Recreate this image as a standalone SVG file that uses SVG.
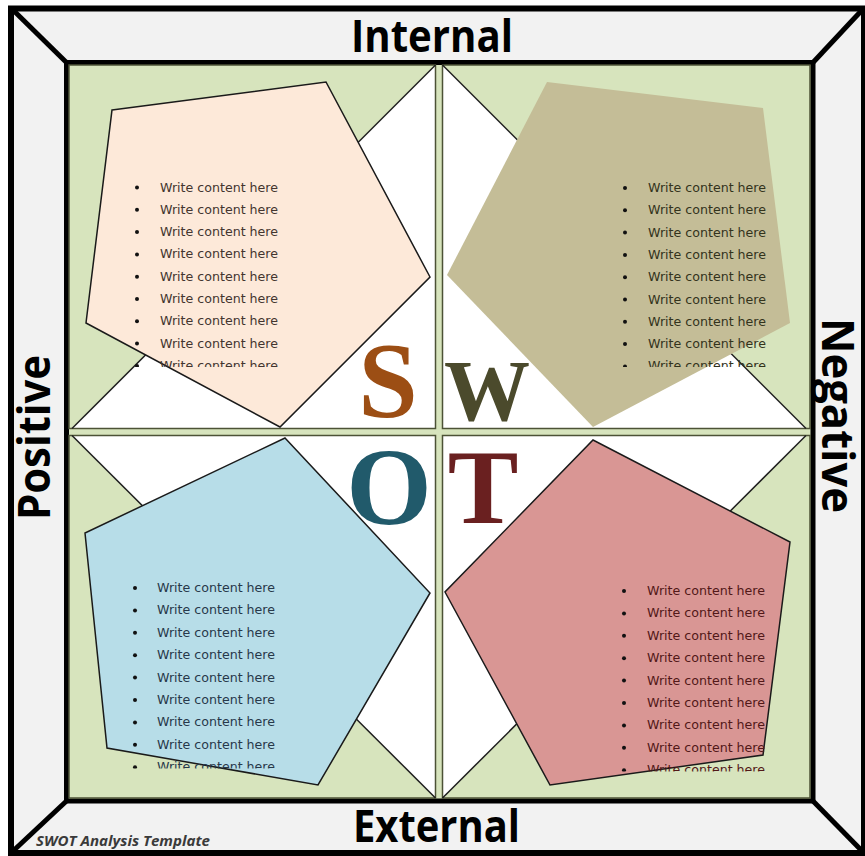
<svg xmlns="http://www.w3.org/2000/svg" width="865" height="856" viewBox="0 0 865 856">
<style>
.frame{fill:#f2f2f2;stroke:#000;stroke-width:6}
.inner{fill:#d7e4bd;stroke:#000;stroke-width:5}
.corner{stroke:#000;stroke-width:5;fill:none}
.quad{fill:none;stroke:#4c5236;stroke-width:1.5}
.tri{fill:#fff;stroke:none}
.diag{stroke:#1e1e1e;stroke-width:1.5;fill:none}
.label{font-family:"Open Sans","DejaVu Sans",sans-serif;font-weight:700;font-size:44px;fill:#000}
.item{font-family:"DejaVu Sans","Liberation Sans",sans-serif;font-size:11.5px}
.big{font-family:"Liberation Serif","DejaVu Serif",serif;font-weight:700;text-anchor:middle}
.pent{stroke:#1a1a1a;stroke-width:1.5}
</style>
<defs>
<clipPath id="cS"><rect x="120" y="170" width="180" height="197"/></clipPath>
<clipPath id="cW"><rect x="610" y="170" width="180" height="197"/></clipPath>
<clipPath id="cO"><rect x="120" y="570" width="180" height="198.5"/></clipPath>
<clipPath id="cT"><rect x="610" y="573" width="180" height="198.5"/></clipPath>
</defs>

<g id="frame">
<rect class="frame" x="11" y="8.5" width="853" height="844.5"/>
<rect class="inner" x="66.5" y="62.5" width="746.5" height="738.5"/>
<line class="corner" x1="12" y1="9" x2="66.5" y2="62.5"/>
<line class="corner" x1="863" y1="9" x2="813" y2="62.5"/>
<line class="corner" x1="12" y1="852" x2="66.5" y2="801"/>
<line class="corner" x1="863" y1="852" x2="813" y2="801"/>
</g>

<g id="quadrants">
<polygon class="tri" points="435.5,65 435.5,428.5 72,428.5"/>
<polygon class="tri" points="442.5,65 442.5,428.5 806,428.5"/>
<polygon class="tri" points="72,435.5 435.5,435.5 435.5,798"/>
<polygon class="tri" points="806,435.5 442.5,435.5 442.5,798"/>
<rect class="quad" x="69" y="65" width="366.5" height="363.5"/>
<rect class="quad" x="442.5" y="65" width="367.5" height="363.5"/>
<rect class="quad" x="69" y="435.5" width="366.5" height="362.5"/>
<rect class="quad" x="442.5" y="435.5" width="367.5" height="362.5"/>
</g>

<g id="connectors">
<line class="diag" x1="435.5" y1="65" x2="72" y2="428.5"/>
<line class="diag" x1="442.5" y1="65" x2="806" y2="428.5"/>
<line class="diag" x1="72" y1="435.5" x2="435.5" y2="798"/>
<line class="diag" x1="806" y1="435.5" x2="442.5" y2="798"/>
</g>

<g id="strengths">
<polygon class="pent" fill="#fde9d9" points="112,110 326,82 430,277 280,427 86,323"/>
<g clip-path="url(#cS)" fill="#43352f">
<g class="item">
<text x="160" y="191.5" textLength="118" lengthAdjust="spacingAndGlyphs">Write content here</text>
<text x="160" y="213.8" textLength="118" lengthAdjust="spacingAndGlyphs">Write content here</text>
<text x="160" y="236.1" textLength="118" lengthAdjust="spacingAndGlyphs">Write content here</text>
<text x="160" y="258.4" textLength="118" lengthAdjust="spacingAndGlyphs">Write content here</text>
<text x="160" y="280.7" textLength="118" lengthAdjust="spacingAndGlyphs">Write content here</text>
<text x="160" y="303" textLength="118" lengthAdjust="spacingAndGlyphs">Write content here</text>
<text x="160" y="325.3" textLength="118" lengthAdjust="spacingAndGlyphs">Write content here</text>
<text x="160" y="347.6" textLength="118" lengthAdjust="spacingAndGlyphs">Write content here</text>
<text x="160" y="369.9" textLength="118" lengthAdjust="spacingAndGlyphs">Write content here</text>
</g>
<g fill="#111">
<circle cx="137" cy="187.5" r="2"/><circle cx="137" cy="209.8" r="2"/><circle cx="137" cy="232.1" r="2"/>
<circle cx="137" cy="254.4" r="2"/><circle cx="137" cy="276.7" r="2"/><circle cx="137" cy="299" r="2"/>
<circle cx="137" cy="321.3" r="2"/><circle cx="137" cy="343.6" r="2"/><circle cx="137" cy="365.9" r="2"/>
</g>
</g>
<text class="big" x="388" y="417" font-size="107" fill="#9c4e14">S</text>
</g>

<g id="weaknesses">
<polygon fill="#c4bd97" points="547,82 763,108 790,323 593,427 447,275"/>
<g clip-path="url(#cW)" fill="#33331c">
<g class="item">
<text x="648" y="192" textLength="118" lengthAdjust="spacingAndGlyphs">Write content here</text>
<text x="648" y="214.3" textLength="118" lengthAdjust="spacingAndGlyphs">Write content here</text>
<text x="648" y="236.6" textLength="118" lengthAdjust="spacingAndGlyphs">Write content here</text>
<text x="648" y="258.9" textLength="118" lengthAdjust="spacingAndGlyphs">Write content here</text>
<text x="648" y="281.2" textLength="118" lengthAdjust="spacingAndGlyphs">Write content here</text>
<text x="648" y="303.5" textLength="118" lengthAdjust="spacingAndGlyphs">Write content here</text>
<text x="648" y="325.8" textLength="118" lengthAdjust="spacingAndGlyphs">Write content here</text>
<text x="648" y="348.1" textLength="118" lengthAdjust="spacingAndGlyphs">Write content here</text>
<text x="648" y="370.4" textLength="118" lengthAdjust="spacingAndGlyphs">Write content here</text>
</g>
<g fill="#111">
<circle cx="625" cy="188" r="2"/><circle cx="625" cy="210.3" r="2"/><circle cx="625" cy="232.6" r="2"/>
<circle cx="625" cy="254.9" r="2"/><circle cx="625" cy="277.2" r="2"/><circle cx="625" cy="299.5" r="2"/>
<circle cx="625" cy="321.8" r="2"/><circle cx="625" cy="344.1" r="2"/><circle cx="625" cy="366.4" r="2"/>
</g>
</g>
<text class="big" x="487" y="420" font-size="86" fill="#4b4a2c">W</text>
</g>

<g id="opportunities">
<polygon class="pent" fill="#b7dde8" points="285,438 430,593 318,785 107,748 85,533"/>
<g clip-path="url(#cO)" fill="#27384a">
<g class="item">
<text x="157" y="592" textLength="118" lengthAdjust="spacingAndGlyphs">Write content here</text>
<text x="157" y="614.4" textLength="118" lengthAdjust="spacingAndGlyphs">Write content here</text>
<text x="157" y="636.8" textLength="118" lengthAdjust="spacingAndGlyphs">Write content here</text>
<text x="157" y="659.2" textLength="118" lengthAdjust="spacingAndGlyphs">Write content here</text>
<text x="157" y="681.6" textLength="118" lengthAdjust="spacingAndGlyphs">Write content here</text>
<text x="157" y="704" textLength="118" lengthAdjust="spacingAndGlyphs">Write content here</text>
<text x="157" y="726.4" textLength="118" lengthAdjust="spacingAndGlyphs">Write content here</text>
<text x="157" y="748.8" textLength="118" lengthAdjust="spacingAndGlyphs">Write content here</text>
<text x="157" y="771.2" textLength="118" lengthAdjust="spacingAndGlyphs">Write content here</text>
</g>
<g fill="#111">
<circle cx="135" cy="588" r="2"/><circle cx="135" cy="610.4" r="2"/><circle cx="135" cy="632.8" r="2"/>
<circle cx="135" cy="655.2" r="2"/><circle cx="135" cy="677.6" r="2"/><circle cx="135" cy="700" r="2"/>
<circle cx="135" cy="722.4" r="2"/><circle cx="135" cy="744.8" r="2"/><circle cx="135" cy="767.2" r="2"/>
</g>
</g>
<text class="big" x="389" y="524" font-size="110" fill="#215a6b">O</text>
</g>

<g id="threats">
<polygon class="pent" fill="#d99694" points="593,440 790,542 763,755 550,785 445,592"/>
<g clip-path="url(#cT)" fill="#521818">
<g class="item">
<text x="647" y="595" textLength="118" lengthAdjust="spacingAndGlyphs">Write content here</text>
<text x="647" y="617.4" textLength="118" lengthAdjust="spacingAndGlyphs">Write content here</text>
<text x="647" y="639.8" textLength="118" lengthAdjust="spacingAndGlyphs">Write content here</text>
<text x="647" y="662.2" textLength="118" lengthAdjust="spacingAndGlyphs">Write content here</text>
<text x="647" y="684.6" textLength="118" lengthAdjust="spacingAndGlyphs">Write content here</text>
<text x="647" y="707" textLength="118" lengthAdjust="spacingAndGlyphs">Write content here</text>
<text x="647" y="729.4" textLength="118" lengthAdjust="spacingAndGlyphs">Write content here</text>
<text x="647" y="751.8" textLength="118" lengthAdjust="spacingAndGlyphs">Write content here</text>
<text x="647" y="774.2" textLength="118" lengthAdjust="spacingAndGlyphs">Write content here</text>
</g>
<g fill="#111">
<circle cx="624" cy="591" r="2"/><circle cx="624" cy="613.4" r="2"/><circle cx="624" cy="635.8" r="2"/>
<circle cx="624" cy="658.2" r="2"/><circle cx="624" cy="680.6" r="2"/><circle cx="624" cy="703" r="2"/>
<circle cx="624" cy="725.4" r="2"/><circle cx="624" cy="747.8" r="2"/><circle cx="624" cy="770.2" r="2"/>
</g>
</g>
<text class="big" x="483" y="523" font-size="106" fill="#6a2020">T</text>
</g>

<g id="labels">
<text class="label" x="351" y="52" textLength="162" lengthAdjust="spacingAndGlyphs">Internal</text>
<text class="label" x="353" y="842" textLength="167" lengthAdjust="spacingAndGlyphs">External</text>
<text class="label" transform="translate(50,520) rotate(-90)" textLength="165" lengthAdjust="spacingAndGlyphs">Positive</text>
<text class="label" transform="translate(822,318) rotate(90)" font-size="41" textLength="195" lengthAdjust="spacingAndGlyphs">Negative</text>
<text x="36" y="846" font-family="Open Sans,DejaVu Sans,sans-serif" font-weight="700" font-style="italic" font-size="13.5" fill="#3a3a3a" textLength="174" lengthAdjust="spacingAndGlyphs">SWOT Analysis Template</text>
</g>
</svg>
